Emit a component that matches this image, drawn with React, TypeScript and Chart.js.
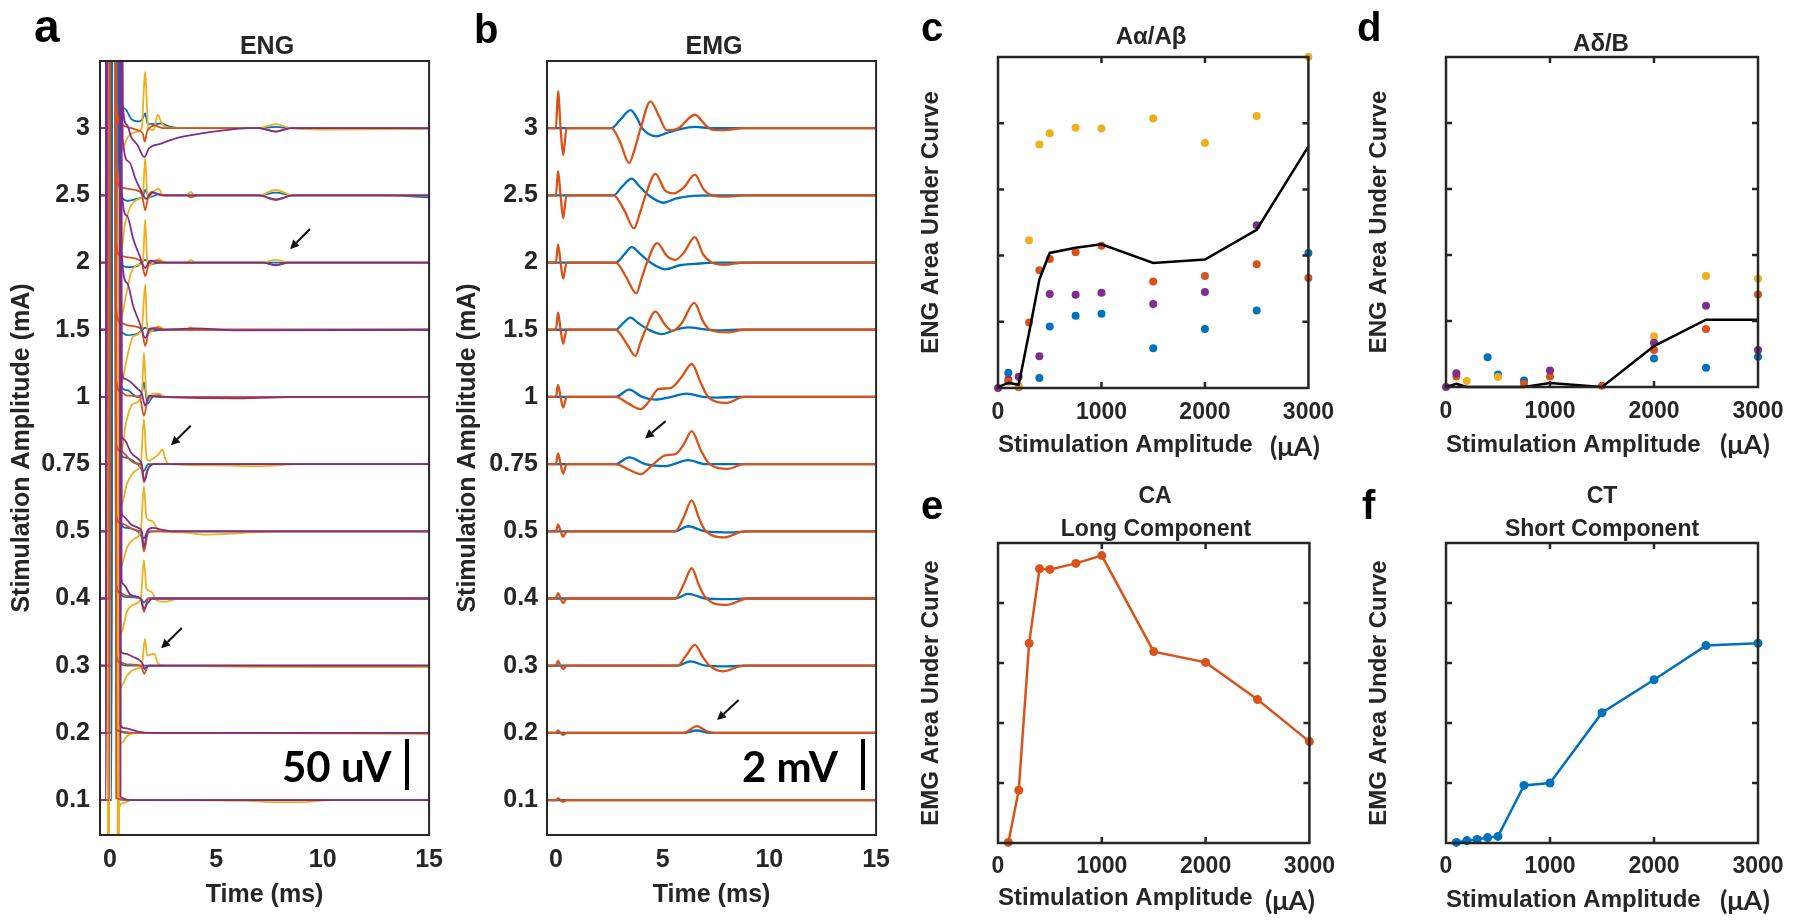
import React, { useEffect, useRef } from 'react';
import { Chart, registerables } from 'chart.js';

Chart.register(...registerables);

const FONT = "'Liberation Sans', Arial, Helvetica, sans-serif";
const CAL = "Lato, 'Open Sans', sans-serif";
const INK = '#262626';
const BLUE = '#0072BD';
const ORANGE = '#D95319';
const YELLOW = '#EDB120';
const PURPLE = '#7E2F8E';

// ---------- axes ----------
const LEVEL_LABELS = ['0.1', '0.2', '0.3', '0.4', '0.5', '0.75', '1', '1.5', '2', '2.5', '3'];
const TIME_TICKS = [0, 5, 10, 15];
const AMP_TICKS = [0, 1000, 2000, 3000];
const AUC_TICKS = [0, 1, 2, 3, 4, 5];

// ---------- panel a : ENG traces, [time ms, offset in level units] ----------
const ENG_ART_BLUE = [[-0.46, 0], [0.08, 0], [0.12, 14], [0.38, 14]];
const ENG_ART_ORANGE = [[-0.46, 0], [-0.02, 0], [0.02, 14], [0.22, 14]];
const ENG_ART_YELLOW = [[-0.46, 0], [-0.08, 0], [-0.04, -14], [0.35, -14]];
const ENG_ART_PURPLE = [[-0.46, 0], [-0.18, 0], [-0.14, 14], [0.48, 14]];

const ENG_YELLOW = [
  [[0.42, -0.15], [0.6, -0.05], [1, 0], [6.5, -0.01], [7.5, -0.03], [9, -0.03], [10.5, 0], [15, 0]],
  [[0.42, -0.4], [0.55, -0.15], [0.8, -0.05], [1.2, 0], [12, -0.01], [15, -0.02]],
  [[0.42, -0.6], [0.55, -0.3], [0.8, -0.15], [1.2, -0.05], [1.5, 0], [1.65, 0.4], [1.75, 0.15], [2.08, 0.18], [2.25, 0.04], [2.5, 0], [10, -0.02], [15, -0.02]],
  [[0.42, -1.0], [0.55, -0.5], [0.8, -0.2], [1.2, -0.08], [1.45, 0], [1.6, 0.57], [1.72, 0.15], [1.95, 0.1], [2.2, -0.03], [2.6, -0.05], [3.2, 0], [15, 0]],
  [[0.42, -1.0], [0.55, -0.5], [0.8, -0.25], [1.2, -0.1], [1.45, 0], [1.6, 0.67], [1.72, 0.2], [2.0, 0.15], [2.2, 0.05], [2.5, 0], [3.5, -0.02], [4.5, -0.05], [6.0, -0.03], [8, 0], [15, 0]],
  [[0.42, -1.0], [0.55, -0.6], [0.8, -0.3], [1.2, -0.1], [1.45, 0], [1.6, 0.67], [1.72, 0.1], [1.85, 0.05], [2.1, 0.1], [2.3, 0.15], [2.47, 0.22], [2.6, 0.08], [2.8, 0], [5, -0.02], [7, -0.03], [9, 0], [15, 0]],
  [[0.42, -1.3], [0.55, -0.8], [0.75, -0.4], [1.1, -0.1], [1.5, 0], [1.6, 0.66], [1.7, 0.1], [1.8, -0.05], [2.0, 0.05], [2.3, 0.05], [2.6, 0], [15, 0]],
  [[0.42, -1.3], [0.55, -0.8], [0.75, -0.5], [1.1, -0.1], [1.5, 0], [1.66, 0.67], [1.74, 0.1], [1.8, -0.05], [2.3, 0.05], [2.6, 0], [3.6, 0], [3.8, 0.04], [4.0, 0], [15, 0]],
  [[0.42, -1.3], [0.55, -0.8], [0.75, -0.5], [1.0, -0.15], [1.4, -0.03], [1.55, 0], [1.66, 0.64], [1.74, 0.1], [1.8, -0.05], [2.3, 0.05], [2.6, 0], [3.6, 0], [3.8, 0.04], [4.0, 0], [7.2, 0], [7.8, 0.04], [8.4, 0], [15, 0]],
  [[0.42, -1.5], [0.55, -0.8], [0.7, -0.45], [1.0, -0.15], [1.4, -0.05], [1.55, 0], [1.66, 0.55], [1.74, 0.1], [1.8, -0.05], [2.0, 0.04], [2.3, 0.1], [2.5, 0], [3.6, 0], [3.8, 0.05], [4.0, 0], [7.0, 0], [7.8, 0.08], [8.6, 0], [15, 0]],
  [[0.42, -1.0], [0.6, -0.3], [0.85, -0.13], [1.3, -0.05], [1.5, 0], [1.6, 0.6], [1.66, 0.84], [1.72, 0.5], [1.8, 0], [2.05, -0.03], [2.25, 0.2], [2.4, 0.1], [2.6, 0.02], [3.2, 0], [7.0, 0], [7.8, 0.06], [8.5, 0], [10, -0.02], [15, -0.01]],
];

const ENG_ORANGE = [
  [[0.3, 0.03], [1, 0], [15, 0]],
  [[0.3, 0.05], [0.6, 0.02], [1, 0], [15, 0]],
  [[0.3, 0.15], [0.5, 0.05], [0.8, 0.02], [1.45, 0], [1.62, -0.12], [1.8, 0], [15, 0]],
  [[0.3, 0.2], [0.5, 0.08], [0.8, 0.04], [1.45, 0], [1.6, -0.2], [1.8, 0], [15, 0]],
  [[0.3, 0.25], [0.5, 0.12], [0.7, 0.1], [1.2, 0.02], [1.45, 0], [1.6, -0.3], [1.8, -0.02], [2.1, 0], [15, 0]],
  [[0.3, 0.3], [0.5, 0.2], [0.7, 0.15], [1.2, 0.01], [1.45, 0], [1.6, -0.27], [1.75, -0.1], [2.0, 0], [15, 0]],
  [[0.3, 0.25], [0.5, 0.08], [0.8, 0.02], [1.4, 0], [1.6, -0.28], [1.8, -0.02], [2.1, 0.02], [2.5, 0], [15, 0]],
  [[0.3, 0.3], [0.5, 0.1], [0.8, 0.07], [1.3, 0.04], [1.5, 0], [1.66, -0.24], [1.85, 0], [2.2, 0.03], [2.6, 0], [15, 0]],
  [[0.3, 0.3], [0.5, 0.1], [0.8, 0.08], [1.3, 0.05], [1.5, 0], [1.66, -0.2], [1.85, 0], [2.2, 0.03], [2.6, 0], [7.2, 0], [7.8, -0.04], [8.4, 0], [15, 0]],
  [[0.3, 0.4], [0.5, 0.12], [0.8, 0.1], [1.2, 0.08], [1.5, 0.02], [1.66, -0.22], [1.8, -0.02], [2.0, 0.05], [2.4, 0], [3.6, 0], [3.8, -0.03], [4.1, 0], [7.0, 0], [7.8, -0.07], [8.6, 0], [15, 0]],
  [[0.3, 0.4], [0.5, 0.05], [0.8, 0.02], [1.3, -0.03], [1.55, -0.08], [1.64, -0.2], [1.75, -0.05], [1.85, 0], [2.1, 0.04], [2.5, 0], [7.0, 0], [7.8, -0.05], [8.5, 0], [15, 0]],
];

const ENG_BLUE = [
  [[0.45, 0.01], [1, 0], [15, 0]],
  [[0.45, 0.02], [1, 0], [15, 0]],
  [[0.45, 0.05], [0.8, 0], [15, 0]],
  [[0.45, 0.1], [0.8, 0.02], [1.45, 0], [1.6, -0.06], [1.8, 0], [15, 0]],
  [[0.45, 0.15], [0.8, 0.05], [1.3, 0], [1.6, -0.1], [1.8, 0], [15, 0]],
  [[0.45, 0.2], [0.7, 0.1], [1.3, 0], [1.6, -0.1], [1.8, 0], [15, 0]],
  [[0.45, 0.25], [0.8, 0.1], [1.3, 0], [1.5, 0.05], [1.6, 0.22], [1.77, -0.1], [2.0, 0], [2.3, 0.03], [2.6, 0], [15, 0]],
  [[0.45, 0.3], [0.6, -0.05], [0.8, -0.08], [1.3, -0.06], [1.66, 0.03], [2.0, -0.02], [2.4, 0], [15, 0]],
  [[0.45, 0.3], [0.6, -0.05], [0.8, -0.07], [1.3, -0.05], [1.66, 0.04], [2.0, -0.02], [2.4, 0], [15, 0]],
  [[0.45, 0.3], [0.6, -0.05], [0.8, -0.08], [1.3, -0.05], [1.55, -0.02], [1.66, 0.08], [1.85, -0.03], [2.3, 0.02], [2.6, 0], [7.0, 0], [7.8, 0.04], [8.6, 0], [13, 0], [15, -0.03]],
  [[0.45, 0.6], [0.7, 0.29], [1.0, 0.14], [1.4, 0.1], [1.55, 0.15], [1.66, 0.22], [1.77, 0.07], [2.0, 0.06], [2.4, 0.07], [2.85, 0.02], [3.5, 0], [7.0, 0], [7.8, 0.02], [8.5, 0], [15, -0.01]],
];

const ENG_PURPLE = [
  [[0.5, 0.05], [1, 0], [15, 0]],
  [[0.5, 0.12], [0.7, 0.07], [1.3, 0.02], [2, 0], [15, 0]],
  [[0.5, 0.22], [0.7, 0.18], [1.1, 0.13], [1.4, 0.08], [1.55, 0.02], [1.62, -0.05], [1.8, 0], [15, 0]],
  [[0.55, 0.3], [0.6, 0.22], [1.0, 0.05], [1.45, 0], [1.6, -0.15], [1.75, -0.08], [2.0, 0], [15, 0]],
  [[0.55, 0.3], [0.6, 0.23], [1.0, 0.1], [1.4, 0.04], [1.5, 0], [1.6, -0.24], [1.75, 0], [2.0, 0.05], [2.5, 0.02], [3, 0], [15, 0]],
  [[0.55, 0.45], [0.65, 0.37], [1.0, 0.17], [1.35, 0.07], [1.5, 0], [1.62, -0.25], [1.8, -0.07], [2.1, 0], [15, 0]],
  [[0.55, 0.4], [0.7, 0.27], [1.3, 0.12], [1.5, 0.05], [1.66, -0.13], [1.85, 0.02], [2.3, 0], [6, -0.02], [9, 0], [15, 0]],
  [[0.55, 1.2], [0.8, 0.7], [1.1, 0.35], [1.4, 0.1], [1.66, -0.12], [1.9, 0.02], [2.3, 0], [4, 0.02], [6, -0.01], [15, 0]],
  [[0.55, 1.1], [0.8, 0.7], [1.1, 0.35], [1.4, 0.1], [1.66, -0.08], [1.9, 0.03], [2.3, 0], [7.2, 0], [7.8, -0.04], [8.4, 0], [15, 0]],
  [[0.6, 0.85], [0.9, 0.5], [1.2, 0.25], [1.5, 0.05], [1.7, -0.05], [2.0, 0.04], [2.5, 0], [7.0, 0], [7.8, -0.06], [8.6, 0], [15, 0]],
  [[0.6, 0.37], [0.8, 0.05], [1.0, -0.13], [1.3, -0.25], [1.62, -0.43], [1.84, -0.3], [2.4, -0.23], [3.1, -0.15], [3.9, -0.1], [5.4, -0.03], [6.5, 0], [7.0, 0], [7.8, -0.05], [8.5, 0], [15, 0]],
];

// ---------- panel b : EMG traces ----------
const EMG_ORANGE = [
  [[-0.42, 0], [0, 0], [0.1, 0.025], [0.22, 0], [0.34, -0.025], [0.5, 0], [15, 0]],
  [[-0.42, 0], [0, 0], [0.1, 0.035], [0.22, 0], [0.34, -0.03], [0.5, 0], [6.0, 0], [6.6, 0.1], [7.1, 0.02], [7.5, 0], [15, 0]],
  [[-0.42, 0], [0, 0], [0.1, 0.07], [0.22, 0], [0.34, -0.05], [0.5, 0], [5.7, 0], [6.1, 0.15], [6.51, 0.31], [6.9, 0.12], [7.2, 0], [7.82, -0.085], [8.8, 0], [15, 0]],
  [[-0.42, 0], [0, 0], [0.1, 0.08], [0.22, 0], [0.34, -0.07], [0.5, 0], [5.59, 0], [6.0, 0.22], [6.36, 0.45], [6.7, 0.2], [7.0, 0.02], [7.98, -0.095], [9.0, 0], [15, 0]],
  [[-0.42, 0], [0, 0], [0.1, 0.1], [0.22, 0], [0.34, -0.08], [0.5, 0], [5.59, 0], [6.0, 0.22], [6.36, 0.46], [6.7, 0.2], [6.98, 0.02], [7.9, -0.09], [8.8, 0], [15, 0]],
  [[-0.42, 0], [0, 0], [0.1, 0.16], [0.22, 0], [0.34, -0.14], [0.5, 0], [2.8, 0], [3.4, -0.08], [3.97, -0.15], [4.5, -0.02], [5.12, 0.13], [5.6, 0.15], [6.0, 0.3], [6.36, 0.49], [6.8, 0.2], [7.2, 0], [8.06, -0.07], [8.8, 0], [15, 0]],
  [[-0.42, 0], [0, 0], [0.1, 0.18], [0.22, 0], [0.34, -0.16], [0.5, 0], [2.8, 0], [3.4, -0.1], [3.97, -0.18], [4.4, -0.05], [4.81, 0.12], [5.35, 0.13], [5.9, 0.3], [6.36, 0.49], [6.8, 0.2], [7.13, 0], [7.98, -0.09], [8.8, 0], [15, 0]],
  [[-0.42, 0], [0, 0], [0.1, 0.26], [0.22, 0], [0.34, -0.21], [0.5, 0], [2.8, 0], [3.3, -0.2], [3.73, -0.39], [3.95, -0.2], [4.2, 0], [4.66, 0.27], [5.1, 0.08], [5.46, -0.015], [5.9, 0.1], [6.48, 0.4], [6.9, 0.12], [7.2, 0], [8.06, -0.04], [8.8, 0], [15, 0]],
  [[-0.42, 0], [0, 0], [0.1, 0.27], [0.22, 0], [0.34, -0.24], [0.5, 0], [2.8, 0], [3.3, -0.22], [3.77, -0.46], [4.0, -0.25], [4.27, 0], [4.74, 0.29], [5.2, 0.1], [5.59, 0.04], [6.0, 0.15], [6.51, 0.38], [6.9, 0.12], [7.3, 0], [7.9, -0.035], [8.8, 0], [15, 0]],
  [[-0.42, 0], [0, 0], [0.1, 0.36], [0.22, 0], [0.34, -0.34], [0.5, 0], [2.7, 0], [3.2, -0.22], [3.66, -0.49], [3.95, -0.25], [4.2, 0], [4.66, 0.32], [5.1, 0.08], [5.5, 0.03], [6.0, 0.12], [6.51, 0.31], [6.9, 0.1], [7.3, 0], [7.9, -0.02], [8.8, 0], [15, 0]],
  [[-0.42, 0], [0, 0], [0.1, 0.55], [0.22, 0], [0.34, -0.4], [0.5, 0], [2.6, 0], [3.0, -0.2], [3.43, -0.52], [3.7, -0.3], [3.97, 0], [4.43, 0.4], [4.8, 0.2], [5.2, -0.03], [5.74, 0], [6.51, 0.2], [7.0, 0.05], [7.3, -0.02], [7.9, -0.03], [8.8, 0], [15, 0]],
];

const EMG_BLUE = [
  [[-0.42, 0], [15, 0]],
  [[-0.42, 0], [6.0, 0], [6.6, 0.035], [7.2, 0], [15, 0]],
  [[-0.42, 0], [5.7, 0], [6.3, 0.065], [7.0, 0], [8.0, -0.01], [9, 0], [15, 0]],
  [[-0.42, 0], [5.59, 0], [6.2, 0.07], [7.0, 0], [8.0, -0.01], [9, 0], [15, 0]],
  [[-0.42, 0], [5.59, 0], [6.2, 0.075], [7.0, 0], [8.3, -0.015], [9, 0], [15, 0]],
  [[-0.42, 0], [2.8, 0], [3.43, 0.1], [4.2, 0], [5.12, -0.03], [6.2, 0.06], [7.0, 0], [15, 0]],
  [[-0.42, 0], [2.8, 0], [3.43, 0.11], [4.04, 0], [4.66, -0.04], [5.4, 0], [6.13, 0.05], [6.9, 0], [7.5, -0.01], [8.5, 0], [15, 0]],
  [[-0.42, 0], [2.8, 0], [3.15, 0.1], [3.5, 0.18], [3.85, 0.1], [4.35, 0], [4.97, -0.065], [5.6, 0], [6.2, 0.035], [6.9, 0.01], [7.5, -0.01], [8.5, 0], [15, 0]],
  [[-0.42, 0], [2.8, 0], [3.2, 0.12], [3.55, 0.23], [3.95, 0.13], [4.43, 0], [5.12, -0.1], [5.8, -0.04], [6.5, -0.02], [7.5, 0], [15, 0]],
  [[-0.42, 0], [2.7, 0], [3.1, 0.13], [3.55, 0.25], [3.9, 0.14], [4.35, 0], [5.05, -0.11], [5.6, -0.05], [6.2, -0.015], [7.5, 0], [15, 0]],
  [[-0.42, 0], [2.6, 0], [3.0, 0.12], [3.5, 0.27], [3.8, 0.15], [4.04, 0], [4.74, -0.12], [5.2, -0.07], [5.74, -0.02], [6.5, 0.02], [7.3, 0], [15, 0]],
];

// arrows [x1, y1, x2(head), y2(head)] in data units
const ENG_ARROWS = [[9.4, 9.5, 8.47, 9.2], [3.8, 6.57, 2.87, 6.28], [3.38, 3.56, 2.41, 3.26]];
const EMG_ARROWS = [[5.14, 6.64, 4.17, 6.38], [8.56, 2.49, 7.55, 2.19]];

// ---------- panels c-f ----------
const AMPS = [0, 100, 200, 300, 400, 500, 750, 1000, 1500, 2000, 2500, 3000];
const C_YELLOW = [null, null, 0.03, 2.23, 3.68, 3.85, 3.93, 3.92, 4.07, 3.7, 4.11, 5.0];
const C_ORANGE = [null, 0.1, 0.01, 0.99, 1.78, 1.95, 2.05, 2.15, 1.61, 1.69, 1.87, 1.66];
const C_PURPLE = [0.0, 0.13, 0.17, null, 0.48, 1.42, 1.41, 1.44, 1.27, 1.45, 2.46, null];
const C_BLUE = [null, 0.23, null, null, 0.15, 0.93, 1.09, 1.12, 0.6, 0.89, 1.17, 2.04];
const C_MEAN = [0.01, 0.08, 0.05, 0.83, 1.64, 2.04, 2.12, 2.17, 1.89, 1.94, 2.39, 3.65];

const D_YELLOW = [null, null, 0.09, null, null, 0.15, null, null, null, 0.77, 1.68, 1.64];
const D_ORANGE = [null, 0.16, null, null, null, null, 0.05, 0.16, 0.02, 0.56, 0.88, 1.4];
const D_PURPLE = [0.0, 0.21, null, null, null, null, null, 0.25, null, 0.67, 1.23, 0.56];
const D_BLUE = [null, null, null, null, 0.45, 0.19, 0.1, null, null, 0.43, 0.29, 0.46];
const D_MEAN = [0.0, 0.05, 0.0, 0.0, 0.0, 0.0, 0.0, 0.06, 0.0, 0.62, 1.02, 1.02];

const EMG_AMPS = [100, 200, 300, 400, 500, 750, 1000, 1500, 2000, 2500, 3000];
const CA_LONG = [0.01, 0.88, 3.33, 4.57, 4.56, 4.66, 4.79, 3.19, 3.01, 2.39, 1.69];
const CT_SHORT = [0.01, 0.04, 0.06, 0.09, 0.11, 0.96, 1.0, 2.17, 2.72, 3.29, 3.33];

// ---------- helpers ----------
const font = (size: number) => ({ family: FONT, size, weight: 'bold' as const });

function framePlugin(lw: number, tickLen: number) {
  return {
    id: 'frame',
    afterDatasetsDraw(chart: any) {
      const { ctx, chartArea: a, scales } = chart;
      ctx.save();
      ctx.strokeStyle = INK;
      ctx.lineWidth = lw;
      if (tickLen > 0) {
        ctx.beginPath();
        const ys = scales.y;
        ys.ticks.forEach((t: any) => {
          if (t.value <= ys.min || t.value >= ys.max) return;
          const p = ys.getPixelForValue(t.value);
          ctx.moveTo(a.left, p); ctx.lineTo(a.left + tickLen, p);
          ctx.moveTo(a.right, p); ctx.lineTo(a.right - tickLen, p);
        });
        const xs = scales.x;
        xs.ticks.forEach((t: any) => {
          if (t.value <= xs.min || t.value >= xs.max) return;
          const p = xs.getPixelForValue(t.value);
          ctx.moveTo(p, a.bottom); ctx.lineTo(p, a.bottom - tickLen);
          ctx.moveTo(p, a.top); ctx.lineTo(p, a.top + tickLen);
        });
        ctx.stroke();
      }
      ctx.strokeRect(a.left, a.top, a.right - a.left, a.bottom - a.top);
      ctx.restore();
    },
  };
}

function arrowPlugin(arrows: number[][]) {
  return {
    id: 'arrows',
    afterDatasetsDraw(chart: any) {
      const { ctx, scales } = chart;
      ctx.save();
      ctx.strokeStyle = '#111';
      ctx.fillStyle = '#111';
      ctx.lineWidth = 2;
      arrows.forEach(([x1, y1, x2, y2]) => {
        const px1 = scales.x.getPixelForValue(x1), py1 = scales.y.getPixelForValue(y1);
        const px2 = scales.x.getPixelForValue(x2), py2 = scales.y.getPixelForValue(y2);
        const ang = Math.atan2(py2 - py1, px2 - px1);
        const hl = 9, hw = 4.5;
        const bx = px2 - hl * Math.cos(ang), by = py2 - hl * Math.sin(ang);
        ctx.beginPath();
        ctx.moveTo(px1, py1); ctx.lineTo(bx, by); ctx.stroke();
        ctx.beginPath();
        ctx.moveTo(px2, py2);
        ctx.lineTo(bx + hw * Math.sin(ang), by - hw * Math.cos(ang));
        ctx.lineTo(bx - hw * Math.sin(ang), by + hw * Math.cos(ang));
        ctx.closePath(); ctx.fill();
      });
      ctx.restore();
    },
  };
}

function tracePoints(levelIdx: number, parts: number[][][]) {
  const pts: number[][] = [];
  parts.forEach((p) => p.forEach((q) => pts.push(q)));
  return pts.map(([t, d]) => ({ x: t, y: levelIdx + 1 + d }));
}

function traceDataset(data: any[], color: string, width: number, order: number) {
  return {
    type: 'line' as const,
    data,
    borderColor: color,
    borderWidth: width,
    pointRadius: 0,
    cubicInterpolationMode: 'monotone' as const,
    fill: false,
    order,
  };
}

function traceConfig(datasets: any[], opts: any) {
  return {
    type: 'line' as const,
    data: { datasets },
    options: {
      animation: false as const,
      responsive: false,
      devicePixelRatio: 1,
      events: [],
      layout: { padding: { left: 0, top: opts.top, right: opts.right, bottom: 0 } },
      plugins: { legend: { display: false }, tooltip: { enabled: false }, title: { display: false } },
      scales: {
        x: {
          type: 'linear' as const,
          min: opts.xMin,
          max: 15,
          afterBuildTicks: (s: any) => { s.ticks = TIME_TICKS.map((v) => ({ value: v })); },
          afterFit: (s: any) => { s.height = opts.xH; },
          grid: { display: false, drawTicks: false, tickLength: 0 },
          border: { display: false },
          ticks: { font: font(25), color: INK, padding: 10, maxRotation: 0, autoSkip: false, callback: (v: any) => String(v) },
          title: { display: true, text: 'Time (ms)', font: font(25), color: INK, padding: { top: 0, bottom: 12 } },
        },
        y: {
          type: 'linear' as const,
          min: 0.48,
          max: 12.0,
          afterBuildTicks: (s: any) => { s.ticks = LEVEL_LABELS.map((_, i) => ({ value: i + 1 })); },
          afterFit: (s: any) => { s.width = opts.yW; },
          grid: { display: false, drawTicks: false, tickLength: 0 },
          border: { display: false },
          ticks: {
            font: font(25), color: INK, padding: opts.yPad, autoSkip: false,
            callback: (v: any) => LEVEL_LABELS[Math.round(v) - 1],
          },
          title: { display: true, text: 'Stimulation Amplitude (mA)', font: font(25), color: INK, padding: { top: opts.yTitlePad, bottom: 0 } },
        },
      },
    },
    plugins: [framePlugin(2, 0), arrowPlugin(opts.arrows)],
  };
}

function aucConfig(datasets: any[], opts: any) {
  return {
    type: 'line' as const,
    data: { labels: [], datasets },
    options: {
      animation: false as const,
      responsive: false,
      devicePixelRatio: 1,
      events: [],
      layout: { padding: { left: 0, top: opts.top, right: opts.right, bottom: 0 } },
      plugins: { legend: { display: false }, tooltip: { enabled: false }, title: { display: false } },
      scales: {
        x: {
          type: 'linear' as const,
          min: 0,
          max: 3000,
          afterBuildTicks: (s: any) => { s.ticks = AMP_TICKS.map((v) => ({ value: v })); },
          afterFit: (s: any) => { s.height = opts.xH; },
          grid: { display: false, drawTicks: false, tickLength: 0 },
          border: { display: false },
          ticks: { font: font(23), color: INK, padding: opts.xPad, maxRotation: 0, autoSkip: false, callback: (v: any) => String(v) },
          title: { display: true, text: 'Stimulation Amplitude', align: 'start' as const, font: font(24), color: INK, padding: { top: 0, bottom: opts.xTitlePad } },
        },
        y: {
          type: 'linear' as const,
          min: 0,
          max: 5,
          afterBuildTicks: (s: any) => { s.ticks = AUC_TICKS.map((v) => ({ value: v })); },
          afterFit: (s: any) => { s.width = opts.yW; },
          grid: { display: false, drawTicks: false, tickLength: 0 },
          border: { display: false },
          ticks: { display: false },
          title: { display: true, text: opts.yTitle, font: font(24), color: INK, padding: { top: opts.yTitlePad, bottom: 0 } },
        },
      },
    },
    plugins: [framePlugin(2.5, 6)],
  };
}

function scatterDs(values: (number | null)[], color: string, order: number) {
  return {
    type: 'line' as const,
    data: AMPS.map((a, i) => ({ x: a, y: values[i] })).filter((p) => p.y !== null),
    showLine: false,
    pointRadius: 4,
    pointBackgroundColor: color,
    pointBorderColor: color,
    pointBorderWidth: 0,
    borderColor: color,
    order,
    clip: false as const,
  };
}

function meanDs(values: number[]) {
  return {
    type: 'line' as const,
    data: AMPS.map((a, i) => ({ x: a, y: values[i] })),
    borderColor: '#000',
    borderWidth: 2.5,
    pointRadius: 0,
    tension: 0,
    order: 0,
    clip: false as const,
  };
}

function emgLineDs(values: number[], color: string) {
  return {
    type: 'line' as const,
    data: EMG_AMPS.map((a, i) => ({ x: a, y: values[i] })),
    borderColor: color,
    borderWidth: 2.5,
    pointRadius: 4.5,
    pointBackgroundColor: color,
    pointBorderColor: color,
    pointBorderWidth: 0,
    tension: 0,
    clip: false as const,
  };
}

function Txt(props: { x: number; y: number; size: number; text: string; family?: string; anchor?: string; color?: string }) {
  const { x, y, size, text, family = FONT, anchor = 'center', color = INK } = props;
  const tx = anchor === 'center' ? '-50%' : anchor === 'right' ? '-100%' : '0';
  return (
    <div
      style={{
        position: 'absolute', left: x, top: y, transform: `translate(${tx}, -50%)`,
        fontFamily: family, fontSize: size, fontWeight: 700, lineHeight: 1,
        whiteSpace: 'nowrap', color,
      }}
    >
      {text}
    </div>
  );
}

export default function App() {
  const rA = useRef<HTMLCanvasElement>(null);
  const rB = useRef<HTMLCanvasElement>(null);
  const rC = useRef<HTMLCanvasElement>(null);
  const rD = useRef<HTMLCanvasElement>(null);
  const rE = useRef<HTMLCanvasElement>(null);
  const rF = useRef<HTMLCanvasElement>(null);

  useEffect(() => {
    const engSets: any[] = [];
    LEVEL_LABELS.forEach((_, i) => {
      engSets.push(traceDataset(tracePoints(i, [ENG_ART_BLUE, ENG_BLUE[i]]), BLUE, 1.8, 3));
      engSets.push(traceDataset(tracePoints(i, [ENG_ART_YELLOW, ENG_YELLOW[i]]), YELLOW, 1.8, 2));
      engSets.push(traceDataset(tracePoints(i, [ENG_ART_ORANGE, ENG_ORANGE[i]]), ORANGE, 1.8, 1));
      engSets.push(traceDataset(tracePoints(i, [ENG_ART_PURPLE, ENG_PURPLE[i]]), PURPLE, 1.8, 0));
    });
    const emgSets: any[] = [];
    LEVEL_LABELS.forEach((_, i) => {
      emgSets.push(traceDataset(tracePoints(i, [EMG_BLUE[i]]), BLUE, 2.3, 1));
      emgSets.push(traceDataset(tracePoints(i, [EMG_ORANGE[i]]), ORANGE, 2.3, 0));
    });

    const charts: Chart[] = [];
    charts.push(new Chart(rA.current as any, traceConfig(engSets, {
      top: 61, right: 19, xH: 87, yW: 100, xMin: -0.463, yPad: 10, yTitlePad: 7, arrows: ENG_ARROWS,
    }) as any));
    charts.push(new Chart(rB.current as any, traceConfig(emgSets, {
      top: 61, right: 20, xH: 87, yW: 94, xMin: -0.417, yPad: 9, yTitlePad: 0, arrows: EMG_ARROWS,
    }) as any));
    charts.push(new Chart(rC.current as any, aucConfig([
      meanDs(C_MEAN),
      scatterDs(C_BLUE, BLUE, 4),
      scatterDs(C_PURPLE, PURPLE, 3),
      scatterDs(C_ORANGE, ORANGE, 2),
      scatterDs(C_YELLOW, YELLOW, 1),
    ], { top: 57, right: 34, xH: 92, yW: 98, xPad: 11, xTitlePad: 20, yTitle: 'ENG Area Under Curve', yTitlePad: 17 }) as any));
    charts.push(new Chart(rD.current as any, aucConfig([
      meanDs(D_MEAN),
      scatterDs(D_BLUE, BLUE, 4),
      scatterDs(D_YELLOW, YELLOW, 3),
      scatterDs(D_ORANGE, ORANGE, 2),
      scatterDs(D_PURPLE, PURPLE, 1),
    ], { top: 57, right: 42, xH: 93, yW: 101, xPad: 11, xTitlePad: 20, yTitle: 'ENG Area Under Curve', yTitlePad: 20 }) as any));
    charts.push(new Chart(rE.current as any, aucConfig([
      emgLineDs(CA_LONG, ORANGE),
    ], { top: 73, right: 35, xH: 79, yW: 98, xPad: 10, xTitlePad: 9, yTitle: 'EMG Area Under Curve', yTitlePad: 17 }) as any));
    charts.push(new Chart(rF.current as any, aucConfig([
      emgLineDs(CT_SHORT, BLUE),
    ], { top: 73, right: 42, xH: 79, yW: 101, xPad: 10, xTitlePad: 7, yTitle: 'EMG Area Under Curve', yTitlePad: 20 }) as any));

    return () => charts.forEach((c) => c.destroy());
  }, []);

  const cv = (left: number, top: number) => ({ position: 'absolute' as const, left, top, display: 'block' });

  return (
    <div style={{ position: 'absolute', left: 0, top: 0, width: 1800, height: 922, background: '#fff', overflow: 'hidden' }}>
      <canvas ref={rA} width={453} height={922} style={cv(0, 0)} />
      <canvas ref={rB} width={447} height={922} style={cv(453, 0)} />
      <canvas ref={rC} width={445} height={480} style={cv(900, 0)} />
      <canvas ref={rD} width={455} height={480} style={cv(1345, 0)} />
      <canvas ref={rE} width={445} height={452} style={cv(900, 470)} />
      <canvas ref={rF} width={455} height={452} style={cv(1345, 470)} />

      {/* panel letters */}
      <Txt x={34} y={26} size={46} text="a" anchor="left" color="#000" />
      <Txt x={474} y={29} size={40} text="b" anchor="left" color="#000" />
      <Txt x={921} y={27} size={40} text="c" anchor="left" color="#000" />
      <Txt x={1357} y={27} size={40} text="d" anchor="left" color="#000" />
      <Txt x={921} y={505} size={40} text="e" anchor="left" color="#000" />
      <Txt x={1362} y={505} size={40} text="f" anchor="left" color="#000" />

      {/* panel titles */}
      <Txt x={267} y={45} size={25} text="ENG" />
      <Txt x={714} y={45} size={25} text="EMG" />
      <Txt x={1151} y={36} size={24} text="Aα/Aβ" />
      <Txt x={1601} y={43} size={24} text="Aδ/B" />
      <Txt x={1155} y={495} size={23} text="CA" />
      <Txt x={1156} y={528} size={23} text="Long Component" />
      <Txt x={1602} y={495} size={23} text="CT" />
      <Txt x={1602} y={528} size={23} text="Short Component" />

      {/* unit labels */}
      <Txt x={1270} y={445} size={27} text="(μA)" anchor="left" family={CAL} color={INK} />
      <Txt x={1720} y={443} size={27} text="(μA)" anchor="left" family={CAL} color={INK} />
      <Txt x={1265} y={899} size={27} text="(μA)" anchor="left" family={CAL} color={INK} />
      <Txt x={1720} y={899} size={27} text="(μA)" anchor="left" family={CAL} color={INK} />

      {/* scale bars */}
      <Txt x={282} y={766} size={42} text="50 uV" anchor="left" family={CAL} color="#000" />
      <div style={{ position: 'absolute', left: 405, top: 739, width: 4, height: 51, background: '#000' }} />
      <Txt x={742} y={766} size={42} text="2 mV" anchor="left" family={CAL} color="#000" />
      <div style={{ position: 'absolute', left: 861, top: 739, width: 4, height: 51, background: '#000' }} />
    </div>
  );
}
